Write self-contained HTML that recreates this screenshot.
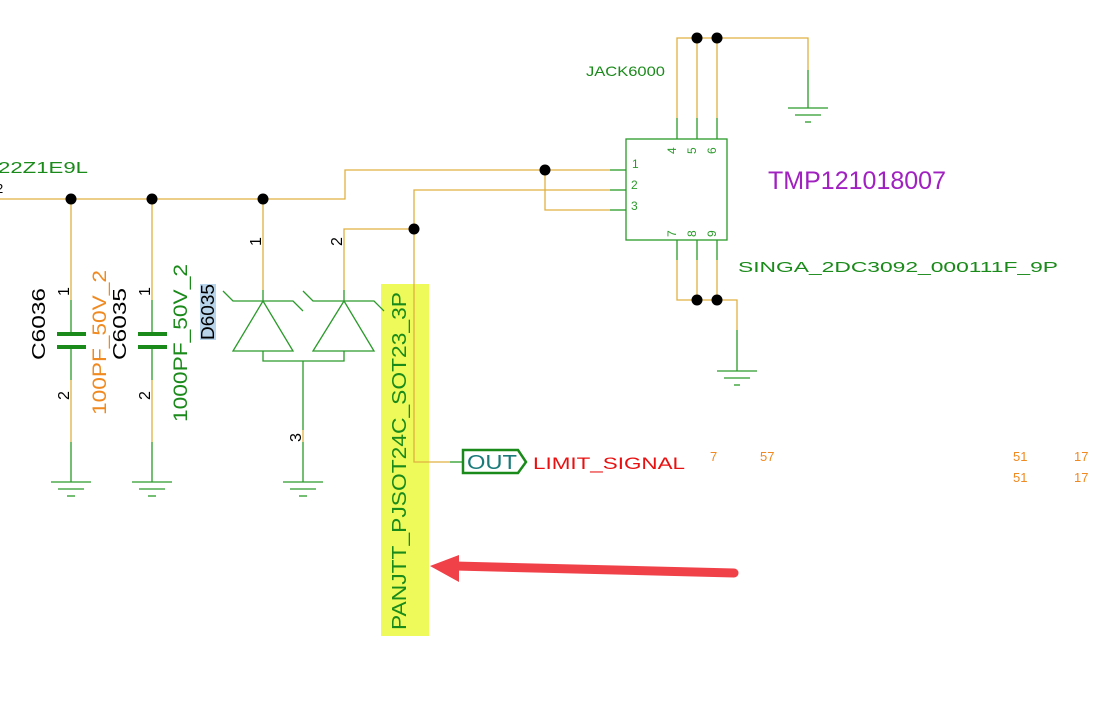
<!DOCTYPE html>
<html><head><style>body{margin:0;background:#fff;}svg{display:block;}</style></head>
<body>
<svg width="1118" height="720" viewBox="0 0 1118 720" font-family="Liberation Sans, sans-serif">
<rect x="381" y="284" width="48" height="352" fill="#eefa5a"/>
<g fill="none" stroke="#e0b040" stroke-width="1.3">
<polyline points="0,199 345,199 345,170 610,170"/>
<polyline points="545,170 545,210 610,210"/>
<polyline points="610,190 414,190 414,462 450,462"/>
<polyline points="414,229 344,229 344,290"/>
<line x1="263" y1="199" x2="263" y2="290"/>
<line x1="71" y1="199" x2="71" y2="300"/><line x1="152" y1="199" x2="152" y2="300"/>
<line x1="71" y1="380" x2="71" y2="442"/><line x1="152" y1="380" x2="152" y2="442"/>
<line x1="303" y1="430" x2="303" y2="442"/>
<polyline points="677,118 677,38 808,38 808,70"/>
<line x1="697" y1="38" x2="697" y2="118"/><line x1="717" y1="38" x2="717" y2="118"/>
<polyline points="677,260 677,300 737,300 737,330"/>
<line x1="697" y1="260" x2="697" y2="300"/><line x1="717" y1="260" x2="717" y2="300"/>
</g>
<g fill="none" stroke="#2a9a2a" stroke-width="1.3">
<line x1="610" y1="170" x2="626" y2="170"/><line x1="610" y1="190" x2="626" y2="190"/><line x1="610" y1="210" x2="626" y2="210"/>
<rect x="626" y="139" width="101" height="101"/>
<line x1="677" y1="118" x2="677" y2="139"/><line x1="697" y1="118" x2="697" y2="139"/><line x1="717" y1="118" x2="717" y2="139"/>
<line x1="677" y1="240" x2="677" y2="260"/><line x1="697" y1="240" x2="697" y2="260"/><line x1="717" y1="240" x2="717" y2="260"/>
<line x1="808" y1="70" x2="808" y2="108"/><line x1="788" y1="108" x2="828" y2="108"/><line x1="795" y1="115" x2="821" y2="115"/><line x1="805" y1="122" x2="811" y2="122"/>
<line x1="737" y1="330" x2="737" y2="371"/><line x1="717" y1="371" x2="757" y2="371"/><line x1="724" y1="378" x2="750" y2="378"/><line x1="734" y1="385" x2="740" y2="385"/>
<line x1="71" y1="300" x2="71" y2="334"/><line x1="71" y1="347" x2="71" y2="380"/>
<line x1="152" y1="300" x2="152" y2="334"/><line x1="152" y1="347" x2="152" y2="380"/>
<line x1="71" y1="442" x2="71" y2="482"/><line x1="51" y1="482" x2="91" y2="482"/><line x1="58" y1="489" x2="84" y2="489"/><line x1="67" y1="496" x2="75" y2="496"/>
<line x1="152" y1="442" x2="152" y2="482"/><line x1="132" y1="482" x2="172" y2="482"/><line x1="139" y1="489" x2="165" y2="489"/><line x1="148" y1="496" x2="156" y2="496"/>
<line x1="263" y1="290" x2="263" y2="301"/><line x1="344" y1="290" x2="344" y2="301"/>
<polyline points="223,291 233,301 293,301 303,311"/>
<polyline points="303,291 313,301 374,301 384,311"/>
<polygon points="263,301 233,351 293,351"/>
<polygon points="344,301 313,351 374,351"/>
<polyline points="263,351 263,361 344,361 344,351"/>
<line x1="303" y1="361" x2="303" y2="430"/>
<line x1="303" y1="442" x2="303" y2="482"/><line x1="283" y1="482" x2="323" y2="482"/><line x1="290" y1="489" x2="316" y2="489"/><line x1="299" y1="496" x2="307" y2="496"/>
<line x1="450" y1="462" x2="463" y2="462"/>
</g>
<g stroke="#1a8a1a" stroke-width="4">
<line x1="57" y1="334" x2="86" y2="334"/><line x1="57" y1="347" x2="86" y2="347"/>
<line x1="138" y1="334" x2="167" y2="334"/><line x1="138" y1="347" x2="167" y2="347"/>
</g>
<polygon points="463,450 518,450 526,462 518,473 463,473" fill="#fff" stroke="#1a8a1a" stroke-width="2.5"/>
<text x="467" y="469" font-size="20" fill="#1a7a7a" textLength="50" lengthAdjust="spacingAndGlyphs">OUT</text>
<g fill="#000">
<circle cx="71" cy="199" r="5.5"/><circle cx="152" cy="199" r="5.5"/><circle cx="263" cy="199" r="5.5"/>
<circle cx="545" cy="170" r="5.5"/><circle cx="414" cy="229" r="5.5"/>
<circle cx="697" cy="38" r="5.5"/><circle cx="717" cy="38" r="5.5"/>
<circle cx="697" cy="300" r="5.5"/><circle cx="717" cy="300" r="5.5"/>
</g>
<g font-size="12" fill="#2a9a2a">
<text x="632" y="168">1</text><text x="631" y="189">2</text><text x="631" y="210">3</text>
<text transform="translate(676,154) rotate(-90)">4</text><text transform="translate(696,154) rotate(-90)">5</text><text transform="translate(716,154) rotate(-90)">6</text>
<text transform="translate(676,237) rotate(-90)">7</text><text transform="translate(696,237) rotate(-90)">8</text><text transform="translate(716,237) rotate(-90)">9</text>
</g>
<g font-size="16" fill="#000">
<text transform="translate(69,296) rotate(-90)">1</text><text transform="translate(150,296) rotate(-90)">1</text>
<text transform="translate(69,400) rotate(-90)">2</text><text transform="translate(150,400) rotate(-90)">2</text>
<text transform="translate(261,246) rotate(-90)">1</text><text transform="translate(342,246) rotate(-90)">2</text>
<text transform="translate(301,442) rotate(-90)">3</text>
<text transform="translate(45,360) rotate(-90)" font-size="18" textLength="72" lengthAdjust="spacingAndGlyphs">C6036</text>
<text transform="translate(126,360) rotate(-90)" font-size="18" textLength="72" lengthAdjust="spacingAndGlyphs">C6035</text>
</g>
<rect x="200" y="284" width="16" height="56" fill="#b8d4ea"/>
<text transform="translate(214,340) rotate(-90)" font-size="18" fill="#000" textLength="56" lengthAdjust="spacingAndGlyphs">D6035</text>
<text transform="translate(106,415) rotate(-90)" font-size="19" fill="#f08a20" textLength="145" lengthAdjust="spacingAndGlyphs">100PF_50V_2</text>
<text transform="translate(187,422) rotate(-90)" font-size="19" fill="#1a8a1a" textLength="158" lengthAdjust="spacingAndGlyphs">1000PF_50V_2</text>
<text transform="translate(406,630) rotate(-90)" font-size="20" fill="#1a8a1a" textLength="338" lengthAdjust="spacingAndGlyphs">PANJTT_PJSOT24C_SOT23_3P</text>
<text x="-2" y="173" font-size="16" fill="#1a8a1a" textLength="90" lengthAdjust="spacingAndGlyphs">22Z1E9L</text>
<text x="-4" y="193" font-size="13" fill="#000">2</text>
<text x="586" y="76" font-size="14" fill="#1a8a1a" textLength="79" lengthAdjust="spacingAndGlyphs">JACK6000</text>
<text x="768" y="189" font-size="25" fill="#a020c0" textLength="178" lengthAdjust="spacingAndGlyphs">TMP121018007</text>
<text x="738" y="272" font-size="15" fill="#1a8a1a" textLength="320" lengthAdjust="spacingAndGlyphs">SINGA_2DC3092_000111F_9P</text>
<text x="533" y="469" font-size="17" fill="#e81010" textLength="152" lengthAdjust="spacingAndGlyphs">LIMIT_SIGNAL</text>
<g font-size="13" fill="#f08a20">
<text x="710" y="461">7</text><text x="760" y="461">57</text>
<text x="1013" y="461">51</text><text x="1074" y="461">17</text>
<text x="1013" y="482">51</text><text x="1074" y="482">17</text>
</g>
<line x1="734" y1="573" x2="455" y2="566" stroke="#f04048" stroke-width="9" stroke-linecap="round"/>
<polygon points="430,566 459,555 459,582" fill="#f04048"/>
</svg>
</body></html>
